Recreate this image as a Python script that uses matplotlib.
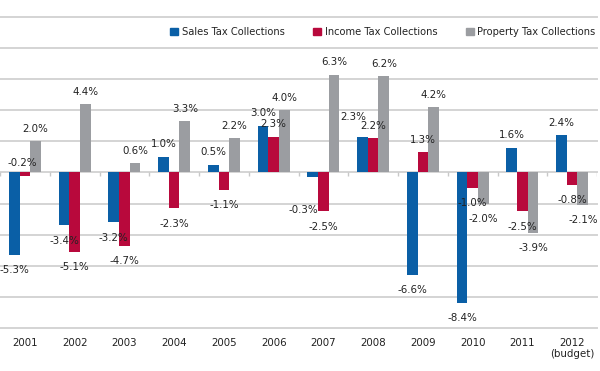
import numpy as np
import matplotlib
matplotlib.use("Agg")
import matplotlib.pyplot as plt
from matplotlib.patches import Patch

plt.rcParams['font.family'] = ['DejaVu Sans']
plt.rcParams['font.stretch'] = 'condensed'

years = ['2001', '2002', '2003', '2004', '2005', '2006', '2007', '2008', '2009', '2010', '2011', '2012\n(budget)']
sales = [-5.3, -3.4, -3.2, 1.0, 0.5, 3.0, -0.3, 2.3, -6.6, -8.4, 1.6, 2.4]
income = [-0.2, -5.1, -4.7, -2.3, -1.1, 2.3, -2.5, 2.2, 1.3, -1.0, -2.5, -0.8]
prop = [2.0, 4.4, 0.6, 3.3, 2.2, 4.0, 6.3, 6.2, 4.2, -2.0, -3.9, -2.1]
names = ['Sales Tax Collections', 'Income Tax Collections', 'Property Tax Collections']
colors = ['#0a5fa6', '#b8093c', '#9b9da1']

# label nudges in px (dx right, dy down) where the original moves a label
nudge = {(1, 0): (-3, -28), (0, 6): (-9, 18), (0, 7): (-9, -7)}

fig = plt.figure(figsize=(6, 3.71), dpi=100)
ax = fig.add_axes([0.0, 0.1159, 0.995, 0.8383])
ax.set_xlim(-0.5, len(years) - 0.5)
ax.set_ylim(-10, 10)
for s in ax.spines.values():
    s.set_visible(False)
ax.set_yticks([])
for g in np.arange(-10, 11, 2):
    ax.axhline(g, color='#d4d4d4', lw=1.4, zorder=0, clip_on=False)
# small ticks between year groups on the zero line
ax.vlines(np.arange(len(years) + 1) - 0.5, -0.25, 0, color='#c8c8c8', lw=1, zorder=0)

x = np.arange(len(years))
w = 0.215
for i, (vals, c) in enumerate(zip([sales, income, prop], colors)):
    xs = x + (i - 1) * w
    ax.bar(xs, vals, width=w, color=c, zorder=2, linewidth=0)
    for j, (xx, v) in enumerate(zip(xs, vals)):
        dx, dy = nudge.get((i, j), (0, 0))
        off = 9.0 if v > 0 else -11.0
        ax.annotate(f'{v:.1f}%', (xx, v), xytext=(dx * 0.72, off - dy * 0.72),
                    textcoords='offset points', ha='center', va='center',
                    fontsize=8.2, color='#222222', zorder=3)

ax.set_xticks(x)
ax.set_xticklabels(years, fontsize=8.2, color='#222222', linespacing=1.1)
ax.tick_params(axis='x', length=0, pad=7)

handles = [Patch(color=c) for c in colors]
fig.legend(handles, names, ncol=3, loc='center right', bbox_to_anchor=(1.0, 0.913),
           frameon=False, fontsize=7.9, handlelength=0.7, handleheight=0.7,
           handletextpad=0.35, columnspacing=2.6, labelcolor='#222222',
           borderaxespad=0.2, borderpad=0.2)

fig.savefig('out.png', dpi=100)
